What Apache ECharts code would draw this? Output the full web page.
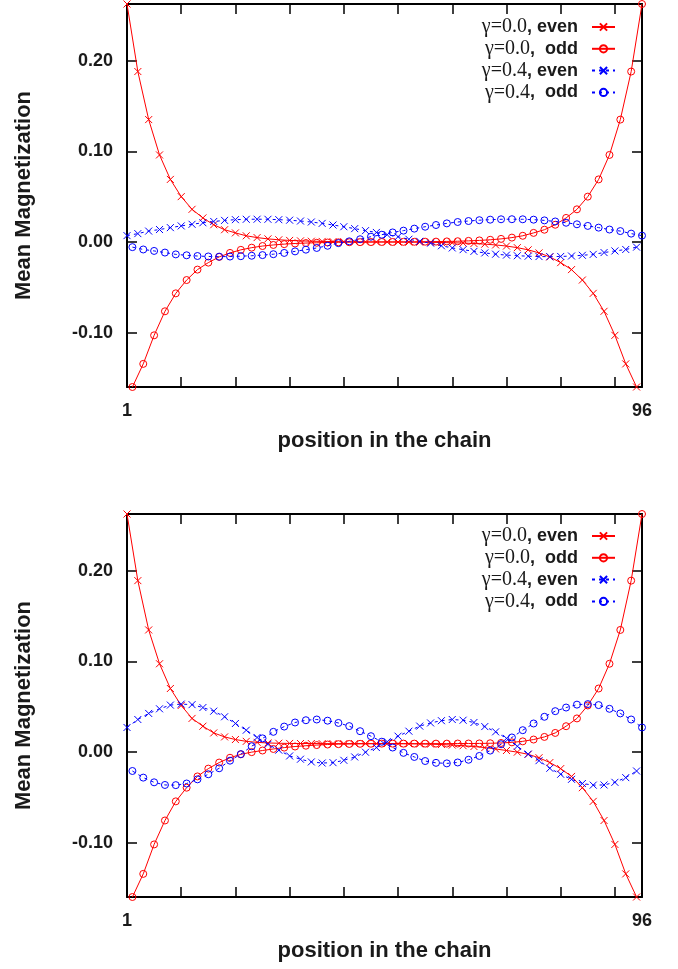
<!DOCTYPE html>
<html>
<head>
<meta charset="utf-8">
<script src="https://cdn.jsdelivr.net/npm/echarts@6/dist/echarts.min.js"></script>
<style>
  html, body { margin: 0; padding: 0; background: #ffffff; }
  #chart { width: 678px; height: 969px; }
</style>
</head>
<body>
<div id="chart"></div>
<script>
// Chain sites carrying each sublattice
const sitesA = [1, 3, 5, 7, 9, 11, 13, 15, 17, 19, 21, 23, 25, 27, 29, 31, 33, 35, 37, 39, 41, 43, 45, 47,
                49, 51, 53, 55, 57, 59, 61, 63, 65, 67, 69, 71, 73, 75, 77, 79, 81, 83, 85, 87, 89, 91, 93, 95];
const sitesB = [2, 4, 6, 8, 10, 12, 14, 16, 18, 20, 22, 24, 26, 28, 30, 32, 34, 36, 38, 40, 42, 44, 46, 48,
                50, 52, 54, 56, 58, 60, 62, 64, 66, 68, 70, 72, 74, 76, 78, 80, 82, 84, 86, 88, 90, 92, 94, 96];

const seriesNames = ['γ=0.0, even', 'γ=0.0,  odd', 'γ=0.4, even', 'γ=0.4,  odd'];

// Upper panel
const upperEvenG0 = [0.2625, 0.188, 0.135, 0.096, 0.069, 0.050, 0.036, 0.0265, 0.019, 0.0135, 0.010, 0.0068,
                     0.0048, 0.0034, 0.0024, 0.0017, 0.0012, 0.0008, 0.0006, 0.0004, 0.0003, 0.0002, 0.0001, 0.0000,
                     0.0000, -0.0001, -0.0002, -0.0003, -0.0004, -0.0006, -0.0009, -0.0012, -0.0017, -0.0024, -0.0033, -0.0045,
                     -0.0063, -0.0087, -0.0121, -0.0165, -0.0228, -0.0305, -0.042, -0.0567, -0.0765, -0.103, -0.1345, -0.160];
const upperOddG0 = [-0.160, -0.1345, -0.103, -0.0765, -0.0567, -0.042, -0.0305, -0.0228, -0.0165, -0.0121, -0.0087, -0.0063,
                    -0.0045, -0.0033, -0.0024, -0.0017, -0.0012, -0.0009, -0.0006, -0.0004, -0.0003, -0.0002, -0.0001, 0.0000,
                    0.0000, 0.0001, 0.0002, 0.0003, 0.0004, 0.0006, 0.0008, 0.0012, 0.0017, 0.0024, 0.0034, 0.0048,
                    0.0068, 0.010, 0.0135, 0.019, 0.0265, 0.036, 0.050, 0.069, 0.096, 0.135, 0.188, 0.2625];
const upperEvenG4 = [0.007, 0.0092, 0.012, 0.0137, 0.0158, 0.0177, 0.0195, 0.0212, 0.0226, 0.0238, 0.0246, 0.025,
                     0.0251, 0.025, 0.0246, 0.024, 0.0231, 0.022, 0.0205, 0.0187, 0.0168, 0.0147, 0.0125, 0.0105,
                     0.008, 0.0058, 0.003, 0.0007, -0.0013, -0.0042, -0.0066, -0.0085, -0.0104, -0.0121, -0.0135, -0.0145,
                     -0.0152, -0.0157, -0.0161, -0.0162, -0.016, -0.0155, -0.0147, -0.0137, -0.0117, -0.0099, -0.0083, -0.0057];
const upperOddG4 = [-0.0057, -0.0083, -0.0099, -0.0117, -0.0137, -0.0147, -0.0155, -0.016, -0.0162, -0.0161, -0.0157, -0.0152,
                    -0.0145, -0.0135, -0.0121, -0.0104, -0.0085, -0.0066, -0.0042, -0.0013, 0.0007, 0.003, 0.0058, 0.008,
                    0.0105, 0.0125, 0.0147, 0.0168, 0.0187, 0.0205, 0.022, 0.0231, 0.024, 0.0246, 0.025, 0.0251,
                    0.025, 0.0246, 0.0238, 0.0226, 0.0212, 0.0195, 0.0177, 0.0158, 0.0137, 0.012, 0.0092, 0.007];

// Lower panel
const lowerEvenG0 = [0.2625, 0.189, 0.1346, 0.0973, 0.070, 0.0513, 0.037, 0.0284, 0.021, 0.0166, 0.0137, 0.0117,
                     0.0106, 0.0099, 0.0096, 0.0094, 0.0093, 0.0093, 0.0092, 0.0092, 0.0092, 0.0092, 0.0092, 0.0092,
                     0.0092, 0.0091, 0.009, 0.0088, 0.0086, 0.0082, 0.0076, 0.0069, 0.006, 0.0048, 0.0033, 0.0016,
                     -0.0002, -0.0026, -0.0064, -0.0117, -0.0184, -0.027, -0.0394, -0.0545, -0.0756, -0.102, -0.1345, -0.160];
const lowerOddG0 = [-0.160, -0.1345, -0.102, -0.0756, -0.0545, -0.0394, -0.027, -0.0184, -0.0117, -0.0064, -0.0026, -0.0002,
                    0.0016, 0.0033, 0.0048, 0.006, 0.0069, 0.0076, 0.0082, 0.0086, 0.0088, 0.009, 0.0091, 0.0092,
                    0.0092, 0.0092, 0.0092, 0.0092, 0.0092, 0.0092, 0.0093, 0.0093, 0.0094, 0.0096, 0.0099, 0.0106,
                    0.0117, 0.0137, 0.0166, 0.021, 0.0284, 0.037, 0.0513, 0.070, 0.0973, 0.1346, 0.189, 0.2625];
const lowerEvenG4 = [0.027, 0.0358, 0.0425, 0.0476, 0.0517, 0.0528, 0.0522, 0.049, 0.045, 0.0388, 0.0314, 0.024,
                     0.016, 0.0085, 0.002, -0.0044, -0.008, -0.011, -0.0122, -0.0118, -0.0092, -0.0055, -0.0003, 0.0049,
                     0.0113, 0.0174, 0.0229, 0.0285, 0.032, 0.0345, 0.0358, 0.035, 0.0325, 0.028, 0.0222, 0.015,
                     0.0063, -0.0024, -0.0096, -0.018, -0.0246, -0.0302, -0.0348, -0.0366, -0.0364, -0.0335, -0.0283, -0.021];
const lowerOddG4 = [-0.021, -0.0283, -0.0335, -0.0364, -0.0366, -0.0348, -0.0302, -0.0246, -0.018, -0.0096, -0.0024, 0.0063,
                    0.015, 0.0222, 0.028, 0.0325, 0.035, 0.0358, 0.0345, 0.032, 0.0285, 0.0229, 0.0174, 0.0113,
                    0.0049, -0.001, -0.0055, -0.010, -0.012, -0.0126, -0.0116, -0.0086, -0.0044, 0.0015, 0.0085, 0.016,
                    0.024, 0.0314, 0.0388, 0.045, 0.049, 0.0522, 0.0528, 0.0517, 0.0476, 0.0425, 0.0358, 0.027];

// Axis ticks and labels
const xTickValues = [1, 11, 21, 31, 41, 51, 61, 71, 81, 91];
const xLabelValues = [1, 96];
const yTickValues = [-0.1, 0, 0.1, 0.2];
const xTitle = 'position in the chain';
const yTitle = 'Mean Magnetization';

const panels = [
  { top: 4, legendTop: 17, data: [upperEvenG0, upperOddG0, upperEvenG4, upperOddG4] },
  { top: 514, legendTop: 526, data: [lowerEvenG0, lowerOddG0, lowerEvenG4, lowerOddG4] }
];

const SANS = '"Liberation Sans", Arial, Helvetica, sans-serif';
const SERIF = '"Liberation Serif", "Times New Roman", serif';
const INK = '#1a1a1a';
const CROSS = 'path://M0,0L10,10M0,10L10,0';

const looks = [
  { color: '#ff0000', symbol: CROSS, size: 7, sites: sitesA, dash: 'solid' },
  { color: '#ff0000', symbol: 'circle', size: 7, sites: sitesB, dash: 'solid' },
  { color: '#0000ff', symbol: CROSS, size: 7, sites: sitesA, dash: [3, 4] },
  { color: '#0000ff', symbol: 'circle', size: 7, sites: sitesB, dash: [3, 4] }
];

const grid = [], xAxis = [], yAxis = [], series = [], legend = [];

const frameLine = { show: true, onZero: false, lineStyle: { color: '#000', width: 2 } };
const tick = (values) => ({ show: true, inside: true, length: 10, customValues: values, lineStyle: { color: '#000', width: 1.5 } });

panels.forEach((p, gi) => {
  grid.push({ left: 127, top: p.top, width: 515, height: 383 });

  xAxis.push({
    type: 'value', gridIndex: gi, position: 'bottom', min: 1, max: 96,
    axisLine: frameLine, axisTick: tick(xTickValues), splitLine: { show: false },
    axisLabel: { show: true, customValues: xLabelValues, showMinLabel: true, showMaxLabel: true, margin: 15,
                 fontFamily: SANS, fontWeight: 'bold', fontSize: 18, color: INK },
    name: xTitle, nameLocation: 'middle', nameGap: 43,
    nameTextStyle: { fontFamily: SANS, fontWeight: 'bold', fontSize: 22, color: INK }
  });
  xAxis.push({
    type: 'value', gridIndex: gi, position: 'top', min: 1, max: 96,
    axisLine: frameLine, axisTick: tick(xTickValues), axisLabel: { show: false }, splitLine: { show: false }
  });

  yAxis.push({
    type: 'value', gridIndex: gi, position: 'left', min: -0.16, max: 0.2625,
    axisLine: frameLine, axisTick: tick(yTickValues), splitLine: { show: false },
    axisLabel: { show: true, customValues: yTickValues, margin: 14, formatter: (v) => v.toFixed(2),
                 fontFamily: SANS, fontWeight: 'bold', fontSize: 18, color: INK },
    name: yTitle, nameLocation: 'middle', nameRotate: 90, nameGap: 92,
    nameTextStyle: { fontFamily: SANS, fontWeight: 'bold', fontSize: 22, color: INK }
  });
  yAxis.push({
    type: 'value', gridIndex: gi, position: 'right', min: -0.16, max: 0.2625,
    axisLine: frameLine, axisTick: tick(yTickValues), axisLabel: { show: false }, splitLine: { show: false }
  });

  looks.forEach((lk, si) => {
    const values = p.data[si];
    series.push({
      type: 'line', name: seriesNames[si],
      xAxisIndex: gi * 2, yAxisIndex: gi * 2,
      data: lk.sites.map((s, i) => [s, values[i]]),
      symbol: lk.symbol, symbolSize: lk.size, showAllSymbol: true, clip: false,
      lineStyle: { color: lk.color, width: 1, type: lk.dash },
      itemStyle: { color: lk.symbol === 'circle' ? 'rgba(0,0,0,0)' : lk.color, borderColor: lk.color, borderWidth: 1 },
      emphasis: { disabled: true },
      z: 2 + si
    });
  });

  legend.push({
    orient: 'vertical', right: 62, top: p.legendTop, padding: 0,
    align: 'right', itemWidth: 23, itemHeight: 9, itemGap: 1.8,
    selectedMode: false, data: seriesNames,
    formatter: (name) => {
      const cut = name.indexOf(',');
      return '{s|' + name.slice(0, cut) + '}{b|' + name.slice(cut) + '}';
    },
    textStyle: {
      rich: {
        s: { fontFamily: SERIF, fontSize: 20, color: INK, lineHeight: 20 },
        b: { fontFamily: SANS, fontWeight: 'bold', fontSize: 18, color: INK, lineHeight: 20, padding: [0, 9, 0, 0] }
      }
    }
  });
});

const chart = echarts.init(document.getElementById('chart'), null, { renderer: 'canvas' });
chart.setOption({
  backgroundColor: '#ffffff',
  animation: false,
  grid, xAxis, yAxis, series, legend
});
</script>
</body>
</html>
